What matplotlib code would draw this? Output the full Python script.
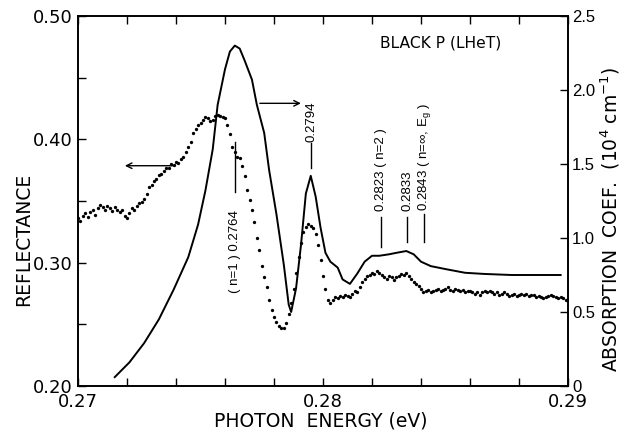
import numpy as np
import matplotlib
matplotlib.use("Agg")
import matplotlib.pyplot as plt
from matplotlib.ticker import FixedLocator, FixedFormatter

plt.rcParams['font.family'] = ['DejaVu Sans']
plt.rcParams['mathtext.default'] = 'regular'

## Data
# reflectance (dots), sampled every 0.0001 eV from 0.2700 to 0.2900
refl_energy = np.round(np.arange(201) * 0.0001 + 0.27, 5)
reflectance = np.array([
    0.336, 0.334, 0.338, 0.340, 0.337, 0.341, 0.343, 0.339, 0.344, 0.347,
    0.345, 0.343, 0.346, 0.344, 0.342, 0.345, 0.343, 0.341, 0.343, 0.338,
    0.336, 0.340, 0.344, 0.343, 0.346, 0.348, 0.349, 0.352, 0.356, 0.361,
    0.363, 0.366, 0.368, 0.371, 0.372, 0.374, 0.377, 0.377, 0.380, 0.379,
    0.382, 0.381, 0.384, 0.386, 0.390, 0.394, 0.398, 0.405, 0.408, 0.412,
    0.413, 0.416, 0.418, 0.417, 0.415, 0.416, 0.419, 0.420, 0.419, 0.418,
    0.417, 0.412, 0.404, 0.394, 0.390, 0.386, 0.385, 0.378, 0.370, 0.359,
    0.351, 0.343, 0.333, 0.320, 0.310, 0.297, 0.288, 0.280, 0.270, 0.262,
    0.256, 0.252, 0.249, 0.247, 0.247, 0.251, 0.258, 0.267, 0.279, 0.292,
    0.305, 0.316, 0.325, 0.329, 0.331, 0.330, 0.328, 0.323, 0.314, 0.302,
    0.289, 0.279, 0.270, 0.267, 0.270, 0.272, 0.271, 0.273, 0.272, 0.274,
    0.273, 0.272, 0.275, 0.277, 0.276, 0.280, 0.284, 0.287, 0.289, 0.290,
    0.292, 0.291, 0.293, 0.292, 0.290, 0.288, 0.287, 0.289, 0.288, 0.286,
    0.288, 0.289, 0.291, 0.290, 0.292, 0.289, 0.287, 0.284, 0.283, 0.281,
    0.279, 0.276, 0.277, 0.278, 0.276, 0.277, 0.278, 0.279, 0.277, 0.278,
    0.279, 0.280, 0.278, 0.277, 0.279, 0.278, 0.277, 0.278, 0.276, 0.277,
    0.277, 0.276, 0.275, 0.276, 0.274, 0.276, 0.277, 0.276, 0.277, 0.276,
    0.275, 0.276, 0.274, 0.275, 0.276, 0.275, 0.273, 0.274, 0.275, 0.273,
    0.274, 0.275, 0.274, 0.275, 0.273, 0.274, 0.274, 0.272, 0.273, 0.272,
    0.271, 0.272, 0.273, 0.274, 0.273, 0.272, 0.271, 0.272, 0.271, 0.270,
    0.270,
])

# absorption coefficient (solid line), 10^4 cm^-1
abs_energy = [0.2715, 0.2721, 0.2727, 0.2733, 0.2739, 0.2745, 0.2749, 0.2752,
              0.2755, 0.2757, 0.2760, 0.2762, 0.2764, 0.2766, 0.2768, 0.2771,
              0.2773, 0.2776, 0.2778, 0.2781, 0.2784, 0.2786, 0.2787, 0.2789,
              0.2791, 0.2793, 0.2795, 0.2797, 0.2799, 0.2801, 0.2803, 0.2806,
              0.2808, 0.2811, 0.2814, 0.2817, 0.2820, 0.2823, 0.2827, 0.2830,
              0.2834, 0.2837, 0.2840, 0.2844, 0.2850, 0.2858, 0.2866, 0.2877,
              0.2888, 0.2897]
absorption = [0.06, 0.16, 0.29, 0.45, 0.65, 0.87, 1.09, 1.32,
              1.60, 1.90, 2.14, 2.26, 2.30, 2.28, 2.20, 2.07,
              1.90, 1.71, 1.46, 1.16, 0.82, 0.55, 0.50, 0.66,
              0.95, 1.30, 1.42, 1.28, 1.07, 0.90, 0.84, 0.80,
              0.72, 0.69, 0.76, 0.84, 0.88, 0.88, 0.89, 0.90,
              0.912, 0.89, 0.84, 0.81, 0.79, 0.765, 0.757, 0.75,
              0.75, 0.75]

# peak labels: energy position, text, text bottom, line bottom, line top
peak_x = [0.2764, 0.27953, 0.28235, 0.28344, 0.28414]
peak_text = ["( n=1 ) 0.2764", "0.2794", "0.2823 ( n=2 )", "0.2833",
             "0.2843 ( n=\u221e, E$_g$ )"]
peak_text_y = [0.63, 1.65, 1.18, 1.18, 1.18]
peak_line_lo = [1.31, 1.47, 0.94, 0.97, 0.97]
peak_line_hi = [1.65, 1.64, 1.14, 1.14, 1.16]

x_ticks = [0.27, 0.272, 0.274, 0.276, 0.278, 0.28, 0.282, 0.284, 0.286, 0.288, 0.29]
x_labels = ["0.27", "", "", "", "", "0.28", "", "", "", "", "0.29"]
r_ticks = [0.20, 0.25, 0.30, 0.35, 0.40, 0.45, 0.50]
r_labels = ["0.20", "", "0.30", "", "0.40", "", "0.50"]
a_ticks = [0, 0.5, 1.0, 1.5, 2.0, 2.5]
a_labels = ["0", "0.5", "1.0", "1.5", "2.0", "2.5"]


fig = plt.figure(figsize=(6.24, 4.38), dpi=100)
ax = fig.add_axes([78 / 624, 52 / 438, 490 / 624, 370 / 438])
ax2 = ax.twinx()

ax.plot(refl_energy, reflectance, 'o', color='black', ms=2.4, mew=0)
ax2.plot(abs_energy, absorption, '-', color='black', lw=1.4)

ax.set_xlim(0.27, 0.29)
ax.set_ylim(0.20, 0.50)
ax2.set_ylim(0, 2.5)

ax.xaxis.set_major_locator(FixedLocator(x_ticks))
ax.xaxis.set_major_formatter(FixedFormatter(x_labels))
ax.yaxis.set_major_locator(FixedLocator(r_ticks))
ax.yaxis.set_major_formatter(FixedFormatter(r_labels))
ax2.yaxis.set_major_locator(FixedLocator(a_ticks))
ax2.yaxis.set_major_formatter(FixedFormatter(a_labels))

ax.tick_params(axis='x', direction='in', length=6, width=1, top=True,
               labelsize=13, pad=5)
ax.tick_params(axis='y', direction='in', length=6, width=1, labelsize=13, pad=4)
ax2.tick_params(axis='y', direction='in', length=6, width=1, labelsize=12, pad=3)
for lab in ax2.get_yticklabels():
    lab.set_family('Liberation Sans')
for a in (ax, ax2):
    for s in a.spines.values():
        s.set_linewidth(1.2)

ax.set_xlabel("PHOTON  ENERGY (eV)", fontsize=13.5)
ax.xaxis.set_label_coords(0.496, -0.070)
ax.set_ylabel("REFLECTANCE", fontsize=13.5)
ax.yaxis.set_label_coords(-0.092, 0.395)
ax2.set_ylabel("ABSORPTION  COEF.  (10$^4$ cm$^{-1}$)", fontsize=13.5)
ax2.yaxis.set_label_coords(1.063, 0.45)

ax2.text(0.28233, 2.32, "BLACK P (LHeT)", fontsize=11.2, ha='left', va='center')

# peak markers
for x, t, ty, lo, hi in zip(peak_x, peak_text, peak_text_y, peak_line_lo, peak_line_hi):
    ax2.plot([x, x], [lo, hi], color='black', lw=1)
    ax2.text(x, ty, t, rotation=90, ha='center', va='bottom', fontsize=9.5,
             family='Liberation Sans')

# arrows telling which axis belongs to which curve
ax.annotate("", xy=(0.2718, 0.3786), xytext=(0.2740, 0.3786),
            arrowprops=dict(arrowstyle='->', lw=1, color='black'))
ax2.annotate("", xy=(0.27921, 1.91), xytext=(0.27731, 1.91),
             arrowprops=dict(arrowstyle='->', lw=1, color='black'))

fig.savefig("out.png", dpi=100)
